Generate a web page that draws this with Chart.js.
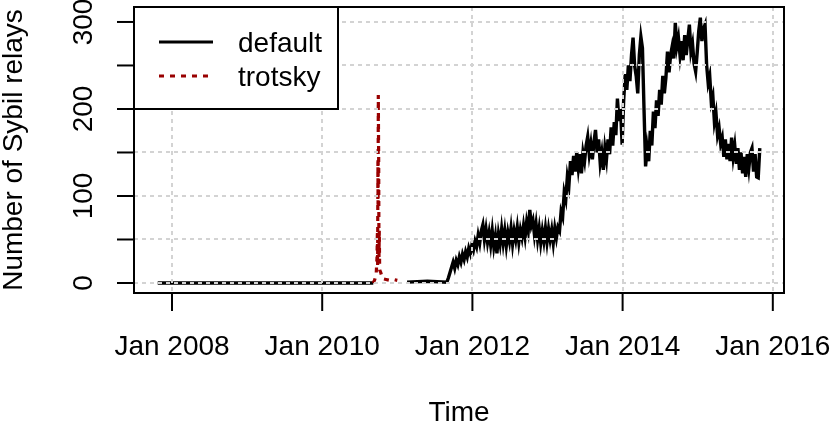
<!DOCTYPE html>
<html>
<head>
<meta charset="utf-8">
<script src="https://cdn.jsdelivr.net/npm/chart.js@4.4.1/dist/chart.umd.min.js"></script>
<style>
  html, body { margin: 0; padding: 0; background: #fff; }
  #wrap { width: 830px; height: 427px; }
</style>
</head>
<body>
<div id="wrap"><canvas id="chart" width="830" height="427"></canvas></div>
<script>
// x is in decimal years
const xTicks = [2008, 2010, 2012, 2014, 2016];
const xTickLabels = ['Jan 2008', 'Jan 2010', 'Jan 2012', 'Jan 2014', 'Jan 2016'];
const yTicks = [0, 50, 100, 150, 200, 250, 300];
const yTickLabels = ['0', '', '100', '', '200', '', '300'];

// default: flat zero, a gap, near zero, then the noisy part (one value every 1/48 year)
const defaultFlatTimes = [2007.81, 2010.68];
const defaultFlatValues = [0, 0];
const defaultLowTimes = [2011.13, 2011.4];
const defaultLowValues = [1, 2];
const defaultNoisyStart = 2011.66;
const defaultNoisyStep = 1 / 48;
const defaultNoisyValues = [
  1, 6, 12, 18, 24, 17, 26, 21, 30, 24,
  33, 27, 36, 30, 40, 34, 44, 38, 48, 42,
  55, 46, 60, 67, 50, 62, 47, 58, 44, 60,
  42, 54, 34, 56, 45, 62, 46, 60, 43, 58,
  48, 63, 45, 60, 50, 64, 47, 61, 52, 66,
  53, 70, 60, 84, 66, 72, 55, 68, 50, 63,
  46, 60, 48, 63, 47, 62, 50, 61, 46, 63,
  52, 64, 60, 82, 76, 104, 96, 122, 112, 140,
  124, 146, 128, 150, 132, 148, 126, 150, 140, 158,
  168, 148, 160, 142, 162, 176, 150, 165, 138, 150,
  130, 155, 142, 165, 148, 179, 158, 185, 170, 212,
  186, 200, 159, 210, 240, 222, 250, 232, 262, 282,
  250, 238, 218, 262, 283, 270, 200, 134, 155, 140,
  175, 158, 197, 178, 210, 192, 222, 205, 238, 218,
  236, 266, 242, 262, 272, 258, 299, 272, 282, 262,
  278, 256, 285, 262, 280, 297, 266, 275, 252, 243,
  265, 290, 305, 278, 292, 297, 251, 230, 238, 208,
  215, 185, 195, 170, 178, 160, 167, 145, 165, 142,
  160, 140, 167, 145, 158, 137, 155, 130, 150, 126,
  145, 122, 148, 132, 150, 155, 128, 148, 122, 121,
  155
];

const trotskyTimes = [
  2010.68, 2010.70, 2010.72, 2010.73, 2010.735, 2010.738, 2010.742, 2010.744,
  2010.747, 2010.752, 2010.756, 2010.76, 2010.765, 2010.78, 2010.80, 2010.85,
  2010.90, 2010.95, 2011.0
];
const trotskyValues = [
  0, 4, 12, 30, 60, 20, 140, 90,
  216, 140, 30, 60, 15, 12, 5, 4,
  3, 4, 3
];

const FONT = '28px "Liberation Sans", Arial, Helvetica, sans-serif';

const defaultData = [];
defaultFlatTimes.forEach((t, i) => defaultData.push({ x: t, y: defaultFlatValues[i] }));
defaultData.push({ x: 2010.9, y: null });
defaultLowTimes.forEach((t, i) => defaultData.push({ x: t, y: defaultLowValues[i] }));
defaultNoisyValues.forEach((v, i) => defaultData.push({ x: defaultNoisyStart + i * defaultNoisyStep, y: v }));

const trotskyData = trotskyTimes.map((t, i) => ({ x: t, y: trotskyValues[i] }));

// R style box, axes, labels and legend
const rAxes = {
  id: 'rAxes',
  afterDraw(chart) {
    const { ctx, chartArea: a, scales: { x, y } } = chart;
    ctx.save();
    ctx.strokeStyle = '#000';
    ctx.fillStyle = '#000';
    ctx.lineWidth = 2;
    ctx.setLineDash([]);
    ctx.strokeRect(a.left, a.top, a.right - a.left, a.bottom - a.top);

    ctx.font = FONT;
    ctx.textAlign = 'center';
    ctx.textBaseline = 'alphabetic';
    xTicks.forEach((t, i) => {
      const px = x.getPixelForValue(t);
      ctx.beginPath();
      ctx.moveTo(px, a.bottom);
      ctx.lineTo(px, a.bottom + 18);
      ctx.stroke();
      ctx.fillText(xTickLabels[i], px, 355);
    });

    yTicks.forEach((t, i) => {
      const py = y.getPixelForValue(t);
      ctx.beginPath();
      ctx.moveTo(a.left - 17, py);
      ctx.lineTo(a.left, py);
      ctx.stroke();
      if (yTickLabels[i]) {
        ctx.save();
        ctx.translate(92, py);
        ctx.rotate(-Math.PI / 2);
        ctx.fillText(yTickLabels[i], 0, 0);
        ctx.restore();
      }
    });

    ctx.fillText('Time', (a.left + a.right) / 2, 421);
    ctx.save();
    ctx.translate(22, (a.top + a.bottom) / 2);
    ctx.rotate(-Math.PI / 2);
    ctx.fillText('Number of Sybil relays', 0, 0);
    ctx.restore();

    // legend
    const lx = a.left, ly = a.top;
    ctx.fillStyle = '#fff';
    ctx.fillRect(lx, ly, 204, 102);
    ctx.strokeRect(lx, ly, 204, 102);
    ctx.lineWidth = 3;
    ctx.strokeStyle = '#000';
    ctx.beginPath();
    ctx.moveTo(lx + 25, ly + 35);
    ctx.lineTo(lx + 79, ly + 35);
    ctx.stroke();
    ctx.strokeStyle = '#990000';
    ctx.setLineDash([5, 6]);
    ctx.beginPath();
    ctx.moveTo(lx + 25, ly + 69);
    ctx.lineTo(lx + 75, ly + 69);
    ctx.stroke();
    ctx.setLineDash([]);
    ctx.fillStyle = '#000';
    ctx.textAlign = 'left';
    ctx.fillText('default', lx + 104, ly + 45);
    ctx.fillText('trotsky', lx + 104, ly + 79);
    ctx.restore();
  }
};

const gridStyle = {
  color: '#d3d3d3',
  lineWidth: 2,
  drawTicks: false,
  z: 1
};

new Chart(document.getElementById('chart'), {
  type: 'line',
  data: {
    datasets: [
      {
        label: 'default',
        data: defaultData,
        borderColor: '#000',
        borderWidth: 3.4,
        pointRadius: 0,
        tension: 0,
        spanGaps: false,
        order: 2
      },
      {
        label: 'trotsky',
        data: trotskyData,
        borderColor: '#990000',
        borderWidth: 3.2,
        borderDash: [5, 6],
        pointRadius: 0,
        tension: 0,
        order: 1
      }
    ]
  },
  options: {
    responsive: false,
    animation: false,
    devicePixelRatio: 1,
    layout: { padding: { left: 134, top: 7, right: 46, bottom: 134 } },
    plugins: {
      legend: { display: false },
      tooltip: { enabled: false }
    },
    scales: {
      x: {
        type: 'linear',
        min: 2007.494,
        max: 2016.149,
        grid: gridStyle,
        border: { display: false, dash: [4, 4] },
        ticks: { display: false, stepSize: 2, includeBounds: false }
      },
      y: {
        type: 'linear',
        min: -11.5,
        max: 317.2,
        grid: gridStyle,
        border: { display: false, dash: [4, 4] },
        ticks: { display: false, stepSize: 50, includeBounds: false }
      }
    }
  },
  plugins: [rAxes]
});
</script>
</body>
</html>
